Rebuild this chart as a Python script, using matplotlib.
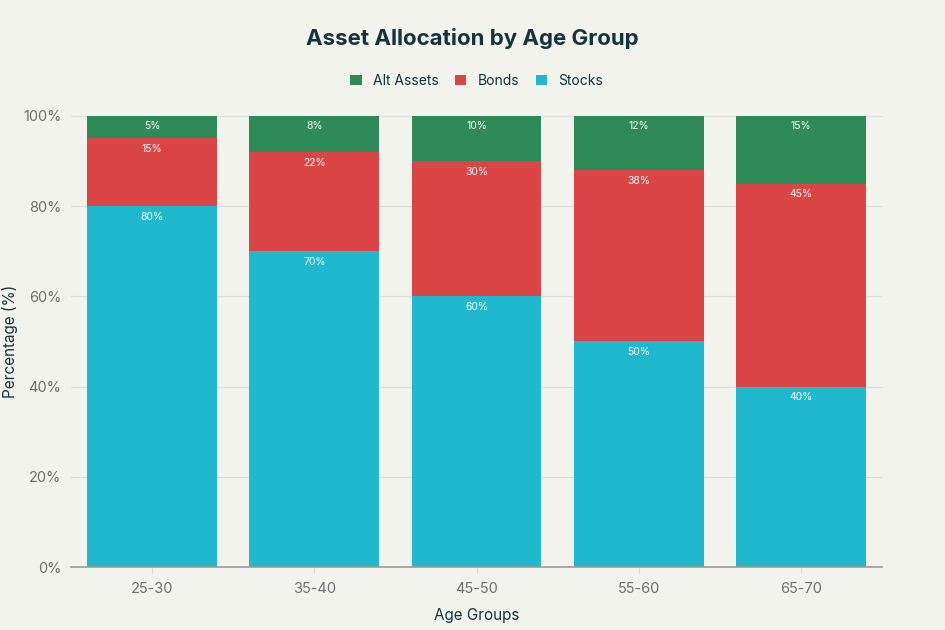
import numpy as np
import matplotlib.pyplot as plt
from matplotlib.ticker import PercentFormatter

age_groups = ["25-30", "35-40", "45-50", "55-60", "65-70"]
stocks = [80, 70, 60, 50, 40]
bonds = [15, 22, 30, 38, 45]
alt_assets = [5, 8, 10, 12, 15]

bg = "#F3F3EE"
c_stocks = "#1FB8CD"
c_bonds = "#DB4545"
c_alt = "#2E8B57"
txt = "#13343B"

plt.rcParams['font.family'] = ['Inter', 'DejaVu Sans']

fig = plt.figure(figsize=(9.451, 6.301), dpi=100, facecolor=bg)
ax = fig.add_axes([0.0751, 0.1, 0.8582, 0.716])
ax.set_facecolor(bg)

x = np.arange(len(age_groups))
w = 0.8
s = np.array(stocks)
b = np.array(bonds)
a = np.array(alt_assets)

ax.bar(x, s, w, color=c_stocks, label="Stocks", zorder=2)
ax.bar(x, b, w, bottom=s, color=c_bonds, label="Bonds", zorder=2)
ax.bar(x, a, w, bottom=s + b, color=c_alt, label="Alt Assets", zorder=2)

# labels at the top of each segment
for i in range(len(x)):
    for val, top in [(stocks[i], s[i]), (bonds[i], s[i] + b[i]), (alt_assets[i], 100)]:
        ax.annotate(f"{val}%", (x[i], top), xytext=(0, -4), textcoords="offset points",
                    ha="center", va="top", fontsize=7.5, color="white", zorder=3)

ax.set_xlim(-0.5, len(x) - 0.5)
ax.set_ylim(0, 100)
ax.yaxis.set_major_formatter(PercentFormatter(decimals=0))
ax.set_yticks([0, 20, 40, 60, 80, 100])
ax.set_xticks(x)
ax.set_xticklabels(age_groups)
ax.grid(axis="y", color="#DDDDD8", linewidth=0.8, zorder=0)
for sp in ["top", "right", "left"]:
    ax.spines[sp].set_visible(False)
ax.spines["bottom"].set_color("#999999")
ax.spines["bottom"].set_linewidth(1.2)
ax.tick_params(axis="both", colors="#6E6E6E", labelsize=10.5, length=0, pad=7)
ax.tick_params(axis="x", length=4, color="#DDDDD8")

ax.set_ylabel("Percentage (%)", fontsize=11, color=txt)
ax.set_xlabel("Age Groups", fontsize=11, color=txt)
ax.yaxis.set_label_coords(-0.075, 0.5)
ax.xaxis.set_label_coords(0.5, -0.108)
ax.yaxis.label.set_va("center")
ax.xaxis.label.set_va("center")

fig.suptitle("Asset Allocation by Age Group", fontsize=16, fontweight="bold",
             color=txt, y=0.955)

handles, labels = ax.get_legend_handles_labels()
order = [2, 1, 0]
ax.legend([handles[k] for k in order], [labels[k] for k in order],
          loc="center", bbox_to_anchor=(0.5, 1.078), ncol=3, frameon=False,
          fontsize=10, handlelength=0.8, handleheight=0.8, columnspacing=1.2,
          handletextpad=0.8, labelcolor=txt)

fig.savefig("out.png", dpi=100, facecolor=bg)
